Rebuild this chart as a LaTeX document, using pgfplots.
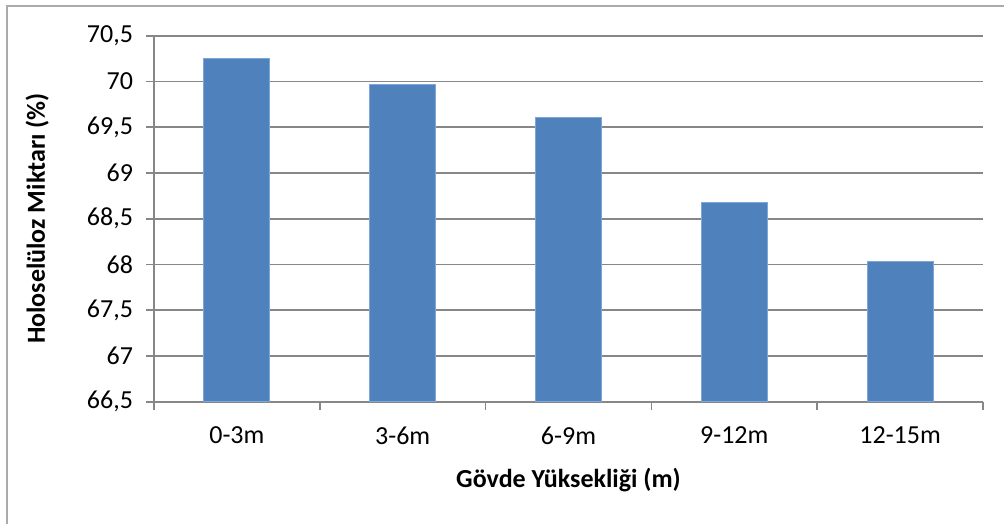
\documentclass[border=0pt]{standalone}
\usepackage{pgfplots}
\pgfplotsset{compat=1.18}
\usepackage{fontspec}
\setmainfont{Carlito}
\definecolor{barblue}{HTML}{4F81BD}
\definecolor{baredge}{HTML}{7EA6D6}
\definecolor{gridgray}{HTML}{878787}
\begin{document}
\begin{tikzpicture}
\path[use as bounding box] (0,0) rectangle (502pt,262pt);
\draw[gridgray!70, line width=0.8pt] (3.5pt,0) -- (3.5pt,259pt) -- (502pt,259pt);
\begin{axis}[
  at={(77pt,61.15pt)}, anchor=south west,
  scale only axis, width=414.5pt, height=183pt,
  xmin=-0.5, xmax=4.5, ymin=66.5, ymax=70.5,
  ybar, bar width=33pt, bar shift=0pt,
  axis lines*=left,
  axis line style={gridgray, line width=0.8pt},
  xtick={-0.5,0.5,1.5,2.5,3.5,4.5},
  xticklabels={0-3m,3-6m,6-9m,9-12m,12-15m},
  x tick label as interval,
  ytick={66.5,67,...,70.5},
  tick align=outside,
  major tick length=4pt,
  tick style={gridgray, line width=0.8pt},
  ymajorgrids,
  grid style={gridgray, line width=0.8pt},
  /pgf/number format/assume math mode=true,
  /pgf/number format/use comma,
  /pgf/number format/fixed,
  /pgf/number format/precision=1,
  tick label style={font=\fontsize{13}{15}\selectfont},
  yticklabel style={xshift=-3pt},
  xticklabel style={yshift=-5pt},
  xlabel={Gövde Yüksekliği (m)},
  ylabel={Holoselüloz Miktarı (\%)},
  every axis x label/.style={at={(axis description cs:0.5,-0.214)}, anchor=center, font=\fontsize{13}{15}\selectfont\bfseries},
  every axis y label/.style={at={(axis description cs:-0.141,0.5)}, rotate=90, anchor=center, font=\fontsize{13}{15}\selectfont\bfseries},
]
\addplot[fill=barblue, draw=baredge, line width=0.5pt] coordinates {
  (0,70.25) (1,69.97) (2,69.61) (3,68.68) (4,68.03)
};
\end{axis}
\end{tikzpicture}
\end{document}
